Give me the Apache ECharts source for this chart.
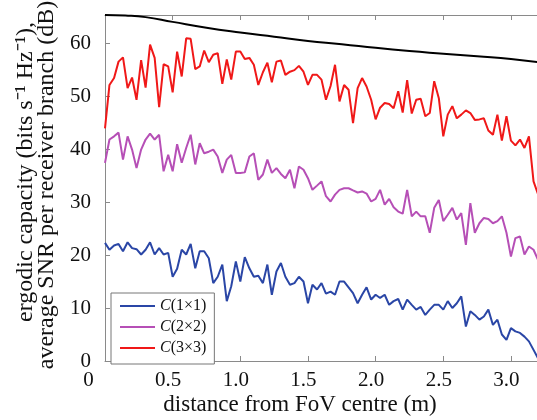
<!DOCTYPE html>
<html><head><meta charset="utf-8">
<script src="https://cdn.jsdelivr.net/npm/echarts@6/dist/echarts.min.js"></script>
<style>html,body{margin:0;padding:0;background:#fff}#c{width:537px;height:420px}</style>
</head><body><div id="c"></div>
<script>
const distance = [0,0.033,0.067,0.1,0.133,0.167,0.2,0.233,0.267,0.3,0.333,0.367,0.4,0.433,0.467,0.5,0.533,0.567,0.6,0.633,0.667,0.7,0.733,0.767,0.8,0.833,0.867,0.9,0.933,0.967,1.0,1.033,1.067,1.1,1.133,1.167,1.2,1.233,1.267,1.3,1.333,1.367,1.4,1.433,1.467,1.5,1.533,1.567,1.6,1.633,1.667,1.7,1.733,1.767,1.8,1.833,1.867,1.9,1.933,1.967,2.0,2.033,2.067,2.1,2.133,2.167,2.2,2.233,2.267,2.3,2.333,2.367,2.4,2.433,2.467,2.5,2.533,2.567,2.6,2.633,2.667,2.7,2.733,2.767,2.8,2.833,2.867,2.9,2.933,2.967,3.0,3.033,3.067,3.1,3.133,3.167,3.2];
const c3x3 = [43.9,52.1,53.4,56.5,57.3,51.5,53.5,49.3,56.8,51.6,59.7,57.2,47.9,56.0,55.6,50.7,58.4,53.7,60.9,60.8,55.1,55.6,58.6,56.4,57.8,58.1,52.3,
 56.9,53.1,58.4,58.4,57.0,57.2,55.9,52.1,54.5,56.3,52.6,56.5,56.7,54.0,54.6,54.9,55.7,54.6,52.1,54.0,54.0,53.1,49.3,51.9,55.9,49.0,52.1,51.2,44.9,51.5,53.4,51.8,
 49.3,45.6,47.8,48.7,48.5,47.7,50.9,46.9,53.0,46.7,49.3,49.5,46.2,46.8,52.8,49.6,42.4,46.5,48.1,45.8,46.5,47.3,46.8,45.5,45.6,45.8,43.5,42.7,46.5,41.6,46.2,41.6,40.7,41.8,40.2,42.4,33.9,31.5];
const c2x2 = [37.4,41.8,42.4,43.1,38.0,42.4,39.9,36.4,39.9,41.8,42.9,41.8,42.7,35.8,38.9,35.8,40.9,37.4,40.2,42.7,37.1,41.1,39.2,39.5,39.9,38.6,35.5,
 38.0,38.9,35.5,35.5,35.6,38.6,39.2,34.2,35.2,38.0,35.5,36.4,35.3,34.5,36.1,32.6,36.7,36.1,34.5,32.3,33.1,33.9,31.1,30.1,31.4,32.3,32.6,32.6,32.2,31.8,32.0,31.6,
 30.1,30.6,32.3,29.5,30.6,29.0,28.2,27.8,32.3,27.3,28.2,27.3,27.3,24.2,28.9,30.4,26.4,27.6,28.9,26.7,27.9,21.9,29.8,24.2,26.0,27.0,26.8,26.0,26.4,27.3,24.2,19.7,23.2,23.5,20.1,21.6,21.0,19.1];
const c1x1 = [22.3,21.0,21.8,22.1,20.7,22.4,21.3,21.1,20.1,21.0,22.4,20.1,21.3,20.1,20.4,15.9,17.4,21.0,20.1,22.1,17.5,20.7,20.7,19.4,14.7,15.9,18.2,
 11.3,14.1,18.8,15.0,19.6,17.5,15.9,16.1,14.7,18.2,12.5,16.9,18.5,15.9,14.4,14.7,15.9,15.0,10.9,14.4,13.5,14.7,12.7,13.1,12.5,15.0,15.0,13.9,12.8,10.9,12.5,13.9,
 11.6,12.5,11.9,12.5,10.6,11.3,11.7,9.7,11.6,10.6,9.7,10.2,8.7,9.7,10.6,10.6,9.7,11.3,10.0,10.9,12.2,6.5,9.4,8.7,7.8,8.4,9.7,6.8,7.8,5.0,4.0,6.2,5.6,5.3,4.6,3.7,2.1,0.5];
const snrDist = [0,0.15,0.3,0.5,0.75,1.0,1.25,1.5,1.75,2.0,2.25,2.5,2.75,3.0,3.2];
const snrVals = [65.3,65.2,64.9,64.0,62.9,62.0,61.2,60.4,59.8,59.1,58.5,58.0,57.5,57.0,56.4];
const seriesNames = ['C(1×1)','C(2×2)','C(3×3)'];
const xTitle = 'distance from FoV centre (m)';
const yTitle1 = 'ergodic capacity (bits s⁻¹ Hz⁻¹),';
const yTitle2 = 'average SNR per receiver branch (dB)';

const FONT = 'Liberation Serif';
const pair = (xs, ys) => xs.map((x, i) => [x, ys[i]]);
const chart = echarts.init(document.getElementById('c'), null, {renderer: 'canvas'});
const axisCol = '#8a8a8a';
chart.setOption({
  animation: false,
  grid: {left: 105, top: 15, right: -1, bottom: 59, containLabel: false, outerBoundsMode: 'none'},
  legend: {
    data: seriesNames, orient: 'vertical', left: 111, top: 293,
    icon: 'rect', itemWidth: 35, itemHeight: 2, itemGap: 5,
    padding: [5, 8, 8, 9],
    backgroundColor: '#fff', borderColor: '#777', borderWidth: 1,
    formatter: n => '{i|C}' + n.slice(1),
    textStyle: {fontFamily: FONT, fontSize: 16, lineHeight: 14, color: '#111',
      rich: {i: {fontFamily: FONT, fontSize: 16, lineHeight: 14, fontStyle: 'italic', color: '#111'}}}
  },
  xAxis: [{
    type: 'value', min: 0, max: 3.2, interval: 0.5,
    axisLine: {show: true, lineStyle: {color: axisCol, width: 1}},
    axisTick: {show: true, inside: true, length: 5, lineStyle: {color: axisCol}},
    splitLine: {show: false},
    axisLabel: {fontFamily: FONT, fontSize: 21, color: '#111', margin: 9,
      formatter: v => (Math.abs(v * 2 - Math.round(v * 2)) < 1e-6) ? (v === 0 ? '{z|0}' : '{t|' + v.toFixed(1) + '}') : '',
      rich: {
        z: {fontFamily: FONT, fontSize: 21, color: '#111', padding: [0, 33, 0, 0]},
        t: {fontFamily: FONT, fontSize: 21, color: '#111', padding: [0, 9, 0, 0]}
      }}
  }, {
    type: 'value', position: 'top', min: 0, max: 3.2, interval: 0.5,
    axisLine: {show: true, lineStyle: {color: axisCol, width: 1}},
    axisTick: {show: true, inside: true, length: 5, lineStyle: {color: axisCol}},
    axisLabel: {show: false}, splitLine: {show: false}
  }],
  yAxis: {
    type: 'value', min: 0, max: 65.3, interval: 10,
    axisLine: {show: true, lineStyle: {color: axisCol, width: 1}},
    axisTick: {show: true, inside: true, length: 5, lineStyle: {color: axisCol}},
    splitLine: {show: false},
    axisLabel: {fontFamily: FONT, fontSize: 21, color: '#111', margin: 14,
      formatter: v => (v % 10 === 0) ? String(v) : ''}
  },
  graphic: [
    {type: 'text', x: 300, y: 405, style: {text: xTitle, font: '23px "Liberation Serif"', fill: '#111', align: 'center', verticalAlign: 'middle'}},
    {type: 'text', x: 26, y: 172, rotation: Math.PI / 2, style: {text: yTitle1, font: '24px "Liberation Serif"', fill: '#111', align: 'center', verticalAlign: 'middle'}},
    {type: 'text', x: 47, y: 185, rotation: Math.PI / 2, style: {text: yTitle2, font: '24px "Liberation Serif"', fill: '#111', align: 'center', verticalAlign: 'middle'}}
  ],
  series: [
    {name: 'SNR', type: 'line', data: pair(snrDist, snrVals), smooth: true, symbol: 'none', lineStyle: {color: '#000', width: 2}, itemStyle: {color: '#000'}, z: 3},
    {name: seriesNames[0], type: 'line', data: pair(distance, c1x1), symbol: 'none', lineStyle: {color: '#2a46a6', width: 2}, itemStyle: {color: '#2a46a6'}},
    {name: seriesNames[1], type: 'line', data: pair(distance, c2x2), symbol: 'none', lineStyle: {color: '#b64fb6', width: 2}, itemStyle: {color: '#b64fb6'}},
    {name: seriesNames[2], type: 'line', data: pair(distance, c3x3), symbol: 'none', lineStyle: {color: '#f01818', width: 2}, itemStyle: {color: '#f01818'}}
  ]
});
</script></body></html>
